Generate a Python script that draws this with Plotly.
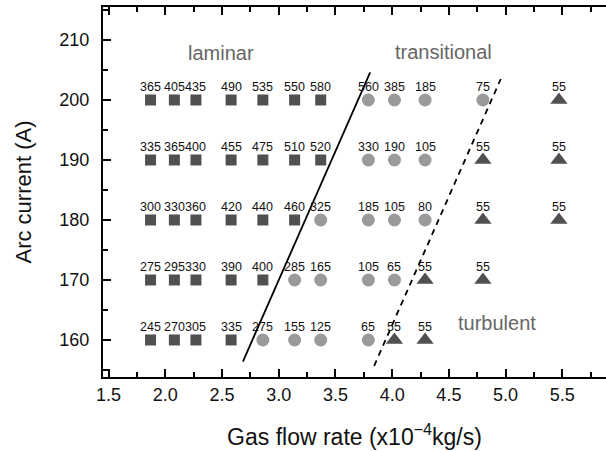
import plotly.graph_objects as go

# --- data ---
laminar_x = [1.87, 2.08, 2.27, 2.58, 2.86, 3.14, 3.37,
             1.87, 2.08, 2.27, 2.58, 2.86, 3.14, 3.37,
             1.87, 2.08, 2.27, 2.58, 2.86, 3.14,
             1.87, 2.08, 2.27, 2.58, 2.86,
             1.87, 2.08, 2.27, 2.58]
laminar_y = [200, 200, 200, 200, 200, 200, 200,
             190, 190, 190, 190, 190, 190, 190,
             180, 180, 180, 180, 180, 180,
             170, 170, 170, 170, 170,
             160, 160, 160, 160]
laminar_lbl = [365, 405, 435, 490, 535, 550, 580,
               335, 365, 400, 455, 475, 510, 520,
               300, 330, 360, 420, 440, 460,
               275, 295, 330, 390, 400,
               245, 270, 305, 335]

trans_x = [3.79, 4.02, 4.29, 4.80,
           3.79, 4.02, 4.29,
           3.37, 3.79, 4.02, 4.29,
           3.14, 3.37, 3.79, 4.02,
           2.86, 3.14, 3.37, 3.79]
trans_y = [200, 200, 200, 200,
           190, 190, 190,
           180, 180, 180, 180,
           170, 170, 170, 170,
           160, 160, 160, 160]
trans_lbl = [560, 385, 185, 75,
             330, 190, 105,
             325, 185, 105, 80,
             285, 165, 105, 65,
             275, 155, 125, 65]

turb_x = [5.47, 4.80, 5.47, 4.80, 5.47, 4.29, 4.80, 4.02, 4.29]
turb_y = [200, 190, 190, 180, 180, 170, 170, 160, 160]
turb_lbl = [55, 55, 55, 55, 55, 55, 55, 55, 55]

# boundary lines (endpoints)
solid_x = [2.684, 3.806]
solid_y = [156.4, 204.6]
dash_x = [3.841, 4.957]
dash_y = [155.7, 203.5]

region_names = ["laminar", "transitional", "turbulent"]
region_x = [2.49, 4.45, 4.92]
region_y = [207.8, 208.0, 162.8]

x_ticks = [1.5, 2.0, 2.5, 3.0, 3.5, 4.0, 4.5, 5.0, 5.5]
y_ticks = [160, 170, 180, 190, 200, 210]

FONT = "Liberation Sans, Arial, Helvetica, sans-serif"
DARK = "#505050"
LIGHT = "#9a9a9a"

fig = go.Figure()

fig.add_trace(go.Scatter(x=solid_x, y=solid_y, mode="lines",
                         line=dict(color="black", width=1.8), showlegend=False, hoverinfo="skip"))
fig.add_trace(go.Scatter(x=dash_x, y=dash_y, mode="lines",
                         line=dict(color="black", width=1.8, dash="6px,5px"), showlegend=False, hoverinfo="skip"))

fig.add_trace(go.Scatter(x=laminar_x, y=laminar_y, mode="markers",
                         marker=dict(symbol="square", size=11, color=DARK), showlegend=False))
fig.add_trace(go.Scatter(x=trans_x, y=trans_y, mode="markers",
                         marker=dict(symbol="circle", size=13, color=LIGHT), showlegend=False))
fig.add_trace(go.Scatter(x=turb_x, y=turb_y, mode="markers",
                         marker=dict(symbol="triangle-up", size=15, color=DARK), showlegend=False))

for xs, ys, ls in [(laminar_x, laminar_y, laminar_lbl),
                   (trans_x, trans_y, trans_lbl),
                   (turb_x, turb_y, turb_lbl)]:
    for xv, yv, lv in zip(xs, ys, ls):
        fig.add_annotation(x=xv, y=yv, text=str(lv), showarrow=False, yshift=13,
                           font=dict(family=FONT, size=12.5, color="#111"))

for name, rx, ry in zip(region_names, region_x, region_y):
    fig.add_annotation(x=rx, y=ry, text=name, showarrow=False,
                       font=dict(family=FONT, size=20, color="#666"))

fig.update_layout(
    width=606, height=451,
    margin=dict(l=103, r=0, t=7, b=74),
    paper_bgcolor="white", plot_bgcolor="white",
    font=dict(family=FONT, color="#111"),
)
fig.update_xaxes(
    range=[1.4507, 5.885], tickvals=x_ticks, ticktext=[f"{v:.1f}" for v in x_ticks],
    ticks="inside", ticklen=8, tickwidth=1.5, tickcolor="black",
    showline=True, linecolor="black", linewidth=2, mirror="allticks",
    showgrid=False, zeroline=False,
    tickfont=dict(family=FONT, size=18, color="#111"),
    ticklabelstandoff=0,
    minor=dict(dtick=0.25, tick0=1.5, ticks="inside", ticklen=5, tickwidth=1.5, tickcolor="black", showgrid=False),
    title=dict(text="Gas flow rate (x10<sup>\u22124</sup>kg/s)", font=dict(family=FONT, size=23, color="#111"), standoff=25),
)
fig.update_yaxes(
    range=[153.83, 215.5], tickvals=y_ticks, ticktext=[str(v) for v in y_ticks],
    ticks="inside", ticklen=8, tickwidth=1.5, tickcolor="black",
    showline=True, linecolor="black", linewidth=2, mirror=False,
    showgrid=False, zeroline=False,
    tickfont=dict(family=FONT, size=18, color="#111"),
    ticklabelstandoff=8,
    minor=dict(dtick=5, tick0=160, ticks="inside", ticklen=5, tickwidth=1.5, tickcolor="black", showgrid=False),
    title=dict(text="Arc current (A)", font=dict(family=FONT, size=22, color="#111"), standoff=22),
)

fig.write_html("out.html")
